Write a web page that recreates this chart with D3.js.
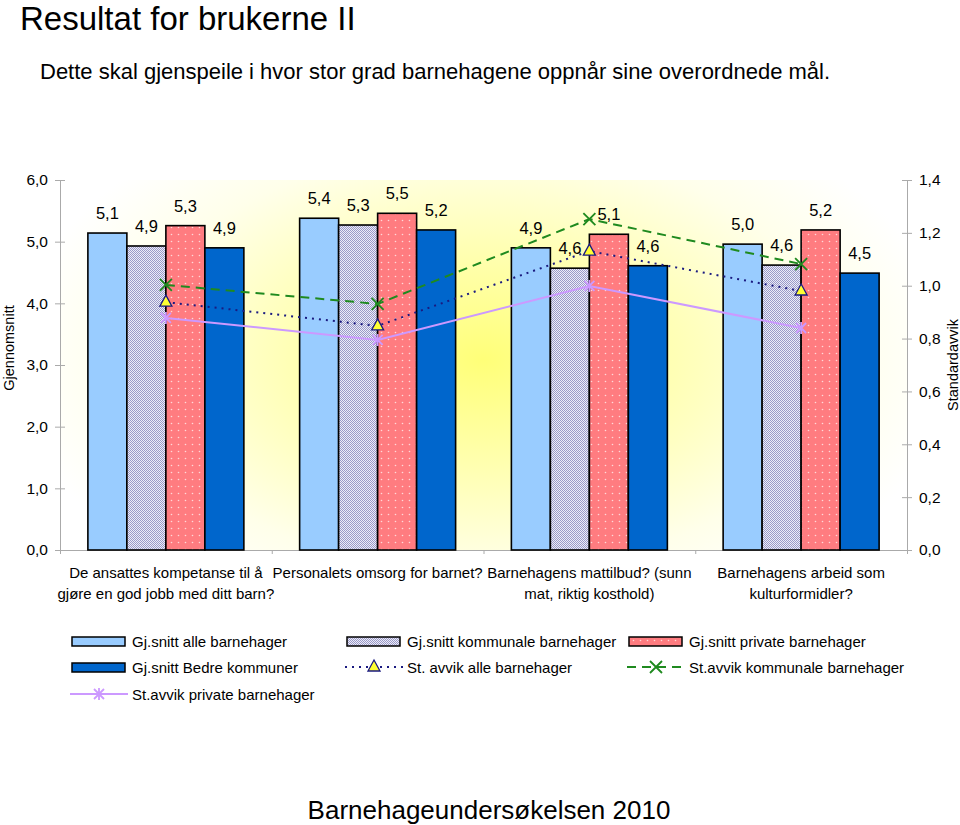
<!DOCTYPE html>
<html><head><meta charset="utf-8">
<script src="https://cdn.jsdelivr.net/npm/d3@7"></script>
<style>body{margin:0;background:#fff}svg{display:block;font-family:"Liberation Sans",Arial,Helvetica,sans-serif}</style>
</head><body><svg id="c" width="960" height="825"></svg>
<script>
const categories = [
  ["De ansattes kompetanse til å", "gjøre en god jobb med ditt barn?"],
  ["Personalets omsorg for barnet?"],
  ["Barnehagens mattilbud? (sunn", "mat, riktig kosthold)"],
  ["Barnehagens arbeid som", "kulturformidler?"]
];
const barSeries = ["Gj.snitt alle barnehager","Gj.snitt kommunale barnehager","Gj.snitt private barnehager","Gj.snitt Bedre kommuner"];
const alleValues      = [5.14, 5.38, 4.90, 4.96];
const kommunaleValues = [4.93, 5.27, 4.57, 4.62];
const privateValues   = [5.26, 5.46, 5.12, 5.19];
const bedreValues     = [4.90, 5.19, 4.61, 4.49];
const lineSeries = ["St. avvik alle barnehager","St.avvik kommunale barnehager","St.avvik private barnehager"];
const sdAlle      = [0.938, 0.848, 1.131, 0.980];
const sdKommunale = [1.003, 0.931, 1.252, 1.082];
const sdPrivate   = [0.878, 0.795, 0.999, 0.840];
const leftTicks  = [0,1,2,3,4,5,6];
const rightTicks = [0,0.2,0.4,0.6,0.8,1.0,1.2,1.4];

const svg = d3.select("#c");
const L = 60, R = 907, T = 180, B = 550;
const fmt = v => d3.format(".1f")(v).replace(".", ",");

const defs = svg.append("defs");
const rg = defs.append("radialGradient").attr("id","bg").attr("gradientUnits","userSpaceOnUse")
  .attr("cx",483).attr("cy",360).attr("r",470)
  .attr("gradientTransform","translate(483,360) scale(1,0.6) translate(-483,-360)");
rg.append("stop").attr("offset",0).attr("stop-color","#ffff78");
rg.append("stop").attr("offset",0.4).attr("stop-color","#ffffb4");
rg.append("stop").attr("offset",0.75).attr("stop-color","#ffffea");
rg.append("stop").attr("offset",1).attr("stop-color","#ffffff");

const p2 = defs.append("pattern").attr("id","chk").attr("patternUnits","userSpaceOnUse").attr("width",2).attr("height",2);
p2.append("rect").attr("width",2).attr("height",2).attr("fill","#ececf8");
p2.append("rect").attr("width",1).attr("height",1).attr("fill","#9a9ac8");
p2.append("rect").attr("x",1).attr("y",1).attr("width",1).attr("height",1).attr("fill","#9a9ac8");
const p3 = defs.append("pattern").attr("id","dots").attr("patternUnits","userSpaceOnUse").attr("width",7).attr("height",7);
p3.append("rect").attr("width",7).attr("height",7).attr("fill","#ff7c80");
p3.append("circle").attr("cx",3.5).attr("cy",3.5).attr("r",0.8).attr("fill","#ffd8d8");

const barFills = ["#99ccff","url(#chk)","url(#dots)","#0066cc"];
const barData = [alleValues, kommunaleValues, privateValues, bedreValues];

const x0 = d3.scaleBand().domain(d3.range(categories.length)).range([L,R]).padding(0);
const x1 = d3.scaleBand().domain(d3.range(barSeries.length)).range([0,x0.bandwidth()]).paddingInner(0).paddingOuter(0.715);
const yL = d3.scaleLinear().domain([0,6]).range([B,T]);
const yR = d3.scaleLinear().domain([0,1.4]).range([B,T]);

// background
svg.append("rect").attr("x",L).attr("y",T).attr("width",R-L).attr("height",B-T).attr("fill","url(#bg)");

// titles
svg.append("text").attr("x",20).attr("y",30).attr("font-size",33).text("Resultat for brukerne II");
svg.append("text").attr("x",40).attr("y",79).attr("font-size",22).text("Dette skal gjenspeile i hvor stor grad barnehagene oppnår sine overordnede mål.");
svg.append("text").attr("x",489).attr("y",819).attr("text-anchor","middle").attr("font-size",26).text("Barnehageundersøkelsen 2010");

// axes
const axL = svg.append("g").attr("transform",`translate(${L},0)`)
  .call(d3.axisLeft(yL).tickValues(leftTicks).tickFormat(fmt).tickSizeInner(5).tickSizeOuter(0));
const axR = svg.append("g").attr("transform",`translate(${R},0)`)
  .call(d3.axisRight(yR).tickValues(rightTicks).tickFormat(fmt).tickSizeInner(5).tickSizeOuter(0));
[axL, axR].forEach(a => {
  a.attr("font-size",null).attr("font-family",null);
  a.select(".domain").attr("stroke","#aaa");
  a.selectAll(".tick line").attr("stroke","#aaa");
  a.selectAll(".tick text").attr("font-size",15.5).attr("fill","#000");
});
axL.selectAll(".tick line").attr("x1",5).attr("x2",-5);
axL.selectAll(".tick text").attr("x",-12);
axR.selectAll(".tick line").attr("x1",-5).attr("x2",5);
axR.selectAll(".tick text").attr("x",12);

const axB = svg.append("g").attr("transform",`translate(0,${B})`)
  .call(d3.axisBottom(d3.scaleLinear().domain([0,4]).range([L,R])).ticks(4).tickFormat("").tickSize(4).tickSizeOuter(0));
axB.select(".domain").attr("stroke","#aaa");
axB.selectAll(".tick line").attr("stroke","#aaa");

svg.append("text").attr("transform","translate(14,348) rotate(-90)").attr("text-anchor","middle").attr("font-size",14.5).text("Gjennomsnitt");
svg.append("text").attr("transform","translate(958,365) rotate(-90)").attr("text-anchor","middle").attr("font-size",14.5).text("Standardavvik");

// category labels
categories.forEach((lines,i)=>{
  const cx = x0(i) + x0.bandwidth()/2;
  lines.forEach((ln,j)=>{
    svg.append("text").attr("x",cx).attr("y",578+j*21).attr("text-anchor","middle").attr("font-size",15).text(ln);
  });
});

// bars
const gBars = svg.append("g");
barData.forEach((vals,s)=>{
  vals.forEach((v,i)=>{
    const bx = x0(i)+x1(s);
    gBars.append("rect").attr("x",bx).attr("y",yL(v)).attr("width",x1.bandwidth()).attr("height",B-yL(v))
      .attr("fill",barFills[s]).attr("stroke","#000").attr("stroke-width",1.6);
    svg.append("text").attr("x",bx+x1.bandwidth()/2).attr("y",yL(v)-14).attr("text-anchor","middle").attr("font-size",16.5).text(fmt(v));
  });
});

// lines
const cxOf = i => x0(i)+x0.bandwidth()/2;
const lineGen = d3.line().x((d,i)=>cxOf(i)).y(d=>yR(d));
const lineDefs = [
  {vals: sdPrivate, color:"#cc99ff", dash:null, w:2, mark:"star"},
  {vals: sdAlle, color:"#1a1a80", dash:"2,5", w:2, mark:"tri"},
  {vals: sdKommunale, color:"#1f8a1f", dash:"9,6", w:2, mark:"x"}
];
function drawMarker(g, type, x, y, color){
  if(type==="tri"){
    g.append("path").attr("d",`M${x},${y-7}L${x+6},${y+4}L${x-6},${y+4}Z`).attr("fill","#ffff33").attr("stroke","#1a1a80").attr("stroke-width",1.3);
  } else if(type==="x"){
    g.append("path").attr("d",`M${x-6},${y-6}L${x+6},${y+6}M${x-6},${y+6}L${x+6},${y-6}`).attr("stroke",color).attr("stroke-width",1.8);
  } else {
    g.append("path").attr("d",`M${x-5},${y-5}L${x+5},${y+5}M${x-5},${y+5}L${x+5},${y-5}M${x},${y-6}L${x},${y+6}`).attr("stroke",color).attr("stroke-width",1.8);
  }
}
const gLines = svg.append("g");
lineDefs.forEach(ld=>{
  gLines.append("path").datum(ld.vals).attr("d",lineGen).attr("fill","none").attr("stroke",ld.color)
    .attr("stroke-width",ld.w).attr("stroke-dasharray",ld.dash);
  ld.vals.forEach((v,i)=>drawMarker(gLines, ld.mark, cxOf(i), yR(v), ld.color));
});

// legend
const legendItems = [
  {label: barSeries[0], type:"bar", fill: barFills[0], col:0, row:0},
  {label: barSeries[1], type:"bar", fill: barFills[1], col:1, row:0},
  {label: barSeries[2], type:"bar", fill: barFills[2], col:2, row:0},
  {label: barSeries[3], type:"bar", fill: barFills[3], col:0, row:1},
  {label: lineSeries[0], type:"line", ld: lineDefs[1], col:1, row:1},
  {label: lineSeries[1], type:"line", ld: lineDefs[2], col:2, row:1},
  {label: lineSeries[2], type:"line", ld: lineDefs[0], col:0, row:2}
];
const colX = [70, 345, 627];
const rowY = [641, 667, 694];
const gLeg = svg.append("g");
legendItems.forEach(it=>{
  const lx = colX[it.col], ly = rowY[it.row];
  if(it.type==="bar"){
    gLeg.append("rect").attr("x",lx+2).attr("y",ly-4).attr("width",53).attr("height",9).attr("fill",it.fill).attr("stroke","#000").attr("stroke-width",1.5);
  } else {
    gLeg.append("line").attr("x1",lx).attr("x2",lx+58).attr("y1",ly).attr("y2",ly).attr("stroke",it.ld.color)
      .attr("stroke-width",it.ld.w).attr("stroke-dasharray",it.ld.dash);
    drawMarker(gLeg, it.ld.mark, lx+29, ly, it.ld.color);
  }
  gLeg.append("text").attr("x",lx+62).attr("y",ly+5.5).attr("font-size",15).text(it.label);
});
</script></body></html>
